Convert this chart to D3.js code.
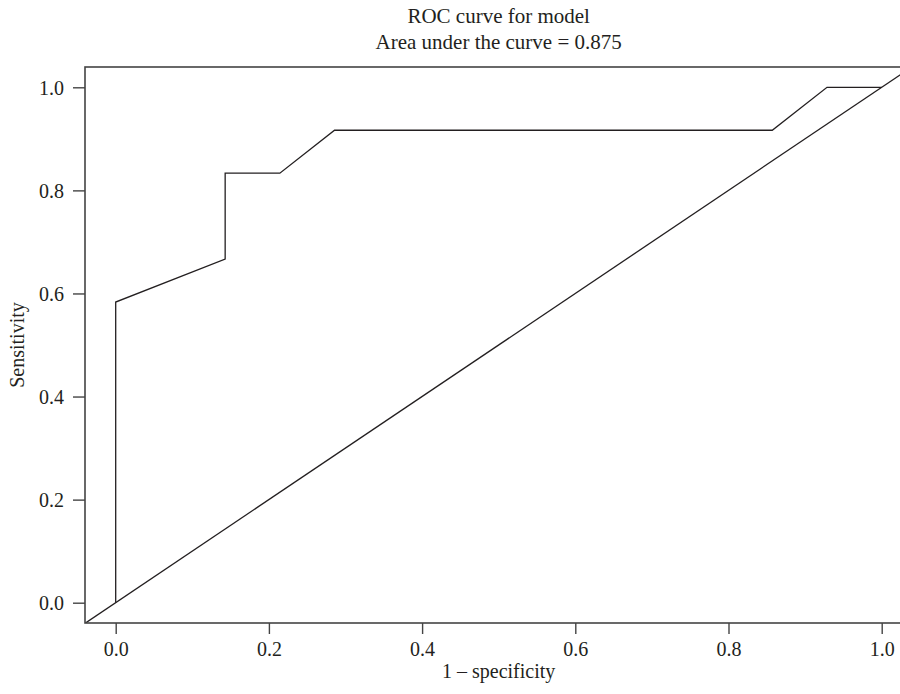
<!DOCTYPE html>
<html>
<head>
<meta charset="utf-8">
<script src="https://cdn.jsdelivr.net/npm/d3@7"></script>
<style>
  body { margin: 0; background: #fff; }
  svg text { font-family: "Liberation Serif", "DejaVu Serif", serif; fill: #231f20; }
</style>
</head>
<body>
<div id="canvas"></div>
<script>
// ROC data (1 - specificity, sensitivity)
var fpr = [0, 0, 0.1429, 0.1429, 0.2143, 0.2857, 0.8571, 0.9286, 1];
var tpr = [0, 0.5833, 0.6667, 0.8333, 0.8333, 0.9167, 0.9167, 1, 1];
var tickVals = [0, 0.2, 0.4, 0.6, 0.8, 1.0];
var auc = 0.875;

var W = 900, H = 694;
// plot region (R style, 4% padding past 0..1)
var m = {t:67, l:85, b:623};
var x0 = 115.7, x1 = 881.7, y0 = 602.7, y1 = 87.3;

var svg = d3.select('#canvas').append('svg')
    .attr('width', W).attr('height', H);

var scaleX = d3.scaleLinear().domain([0, 1]).range([x0, x1]);
var scaleY = d3.scaleLinear().domain([0, 1]).range([y0, y1]);

var right = scaleX(1.04);

svg.append('clipPath').attr('id', 'clip')
  .append('rect')
  .attr('x', m.l).attr('y', m.t)
  .attr('width', right - m.l).attr('height', m.b - m.t);

var plot = svg.append('g').attr('clip-path', 'url(#clip)');

// diagonal reference line y = x
plot.append('line')
  .attr('x1', scaleX(-0.1)).attr('y1', scaleY(-0.1))
  .attr('x2', scaleX(1.2)).attr('y2', scaleY(1.2))
  .attr('stroke', '#231f20').attr('stroke-width', 1.3);

// roc curve
var pts = fpr.map(function(d, i) { return [d, tpr[i]]; });
var line = d3.line()
  .x(function(d) { return scaleX(d[0]); })
  .y(function(d) { return scaleY(d[1]); });

plot.append('path')
  .datum(pts)
  .attr('d', line)
  .attr('fill', 'none')
  .attr('stroke', '#231f20')
  .attr('stroke-width', 1.3);

// box
svg.append('rect')
  .attr('x', m.l).attr('y', m.t)
  .attr('width', right - m.l).attr('height', m.b - m.t)
  .attr('fill', 'none')
  .attr('stroke', '#444')
  .attr('stroke-width', 1.6);

// axes
var axisX = d3.axisBottom(scaleX)
  .tickValues(tickVals)
  .tickFormat(d3.format('.1f'))
  .tickSize(11).tickPadding(8);
var gx = svg.append('g')
  .attr('transform', 'translate(0,' + m.b + ')')
  .call(axisX);

var axisY = d3.axisLeft(scaleY)
  .tickValues(tickVals)
  .tickFormat(d3.format('.1f'))
  .tickSize(12).tickPadding(9);
var gy = svg.append('g')
  .attr('transform', 'translate(' + m.l + ',0)')
  .call(axisY);

[gx, gy].forEach(function(g) {
  g.select('.domain').remove();
  g.selectAll('line').attr('stroke', '#444').attr('stroke-width', 1.4);
  g.selectAll('text').style('font-size', '20px')
    .style('font-family', '"Liberation Serif", serif').attr('fill', '#231f20');
});
gy.selectAll('text').attr('dy', '0.35em');

// titles
var cx = (m.l + right) / 2;
svg.append('text').attr('x', cx).attr('y', 23)
  .attr('text-anchor', 'middle').style('font-size', '21px')
  .text('ROC curve for model');
svg.append('text').attr('x', cx).attr('y', 49)
  .attr('text-anchor', 'middle').style('font-size', '21px')
  .text('Area under the curve = ' + auc);

svg.append('text').attr('x', cx).attr('y', 678)
  .attr('text-anchor', 'middle').style('font-size', '20px')
  .text('1 \u2013 specificity');

svg.append('text')
  .attr('transform', 'translate(24,' + ((m.t + m.b) / 2) + ') rotate(-90)')
  .attr('text-anchor', 'middle').style('font-size', '20px')
  .text('Sensitivity');
</script>
</body>
</html>
